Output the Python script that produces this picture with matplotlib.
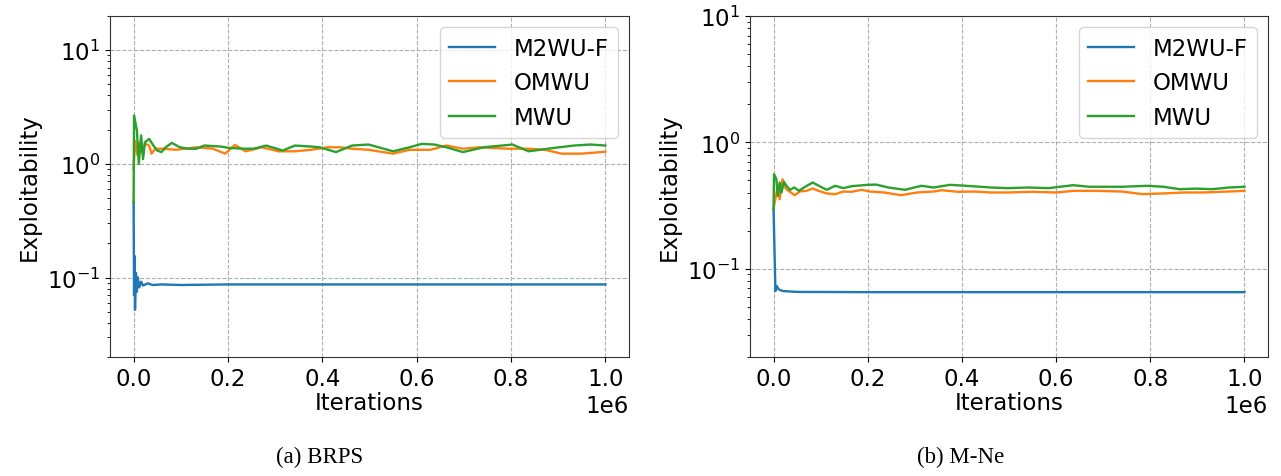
import matplotlib
matplotlib.use("Agg")
import matplotlib.pyplot as plt
import numpy as np

# ---------------- data (x in units of 1e6 iterations) ----------------
brps_m2wu_x = [0.0, 0.001, 0.002, 0.003, 0.005, 0.007, 0.009, 0.012, 0.016, 0.02, 0.03, 0.04,
               0.06, 0.1, 0.2, 0.4, 0.6, 0.8, 1.0]
brps_m2wu_y = [0.46, 0.07, 0.155, 0.052, 0.11, 0.075, 0.10, 0.082, 0.092, 0.085, 0.089, 0.086,
               0.087, 0.086, 0.087, 0.087, 0.087, 0.087, 0.087]

brps_omwu_x = [0.0, 0.003, 0.008, 0.013, 0.018, 0.025, 0.033, 0.038, 0.046, 0.063, 0.09, 0.133,
               0.168, 0.194, 0.215, 0.237, 0.272, 0.307, 0.342, 0.376, 0.411, 0.437, 0.463,
               0.498, 0.55, 0.585, 0.629, 0.663, 0.698, 0.733, 0.76, 0.794, 0.837, 0.872,
               0.907, 0.95, 1.0]
brps_omwu_y = [0.9, 1.6, 1.2, 1.55, 1.25, 1.5, 1.45, 1.23, 1.36, 1.36, 1.33, 1.40,
               1.36, 1.23, 1.47, 1.29, 1.40, 1.29, 1.29, 1.33, 1.40, 1.40, 1.36,
               1.33, 1.23, 1.33, 1.33, 1.45, 1.36, 1.40, 1.38, 1.36, 1.36, 1.33,
               1.23, 1.23, 1.28]

brps_mwu_x = [0.0, 0.001, 0.007, 0.011, 0.016, 0.020, 0.024, 0.033, 0.042, 0.050, 0.059,
              0.068, 0.081, 0.098, 0.116, 0.133, 0.150, 0.185, 0.203, 0.237, 0.255, 0.281,
              0.316, 0.342, 0.377, 0.394, 0.429, 0.463, 0.498, 0.550, 0.585, 0.611, 0.637,
              0.663, 0.698, 0.742, 0.803, 0.837, 0.890, 0.933, 0.968, 1.0]
brps_mwu_y = [0.46, 2.67, 1.97, 1.0, 1.78, 1.1, 1.55, 1.66, 1.45, 1.31, 1.27,
              1.40, 1.53, 1.40, 1.36, 1.36, 1.45, 1.42, 1.38, 1.36, 1.36, 1.45,
              1.31, 1.45, 1.42, 1.40, 1.27, 1.45, 1.48, 1.29, 1.40, 1.50, 1.48,
              1.40, 1.27, 1.40, 1.48, 1.29, 1.38, 1.45, 1.48, 1.45]

mne_m2wu_x = [0.0, 0.004, 0.007, 0.011, 0.02, 0.05, 0.2, 0.5, 0.8, 1.0]
mne_m2wu_y = [0.296, 0.0665, 0.0728, 0.0685, 0.0665, 0.0655, 0.0652, 0.0652, 0.0652, 0.0652]

mne_omwu_x = [0.0, 0.009, 0.013, 0.019, 0.026, 0.037, 0.045, 0.057, 0.070, 0.083, 0.096,
              0.113, 0.131, 0.148, 0.166, 0.187, 0.205, 0.235, 0.270, 0.305, 0.340, 0.357,
              0.392, 0.427, 0.462, 0.497, 0.549, 0.601, 0.636, 0.688, 0.740, 0.784, 0.827,
              0.871, 0.915, 0.949, 1.0]
mne_omwu_y = [0.30, 0.45, 0.355, 0.51, 0.43, 0.40, 0.382, 0.41, 0.413, 0.431, 0.413,
              0.394, 0.389, 0.408, 0.406, 0.421, 0.408, 0.401, 0.382, 0.401, 0.408, 0.418,
              0.406, 0.408, 0.401, 0.401, 0.406, 0.401, 0.413, 0.413, 0.408, 0.389, 0.394,
              0.401, 0.401, 0.406, 0.413]

mne_mwu_x = [0.0, 0.001, 0.006, 0.009, 0.013, 0.017, 0.022, 0.028, 0.035, 0.044, 0.054,
             0.065, 0.083, 0.100, 0.113, 0.131, 0.148, 0.166, 0.200, 0.218, 0.244, 0.279,
             0.314, 0.340, 0.375, 0.409, 0.462, 0.497, 0.540, 0.584, 0.636, 0.671, 0.740,
             0.793, 0.828, 0.862, 0.897, 0.932, 0.967, 1.0]
mne_mwu_y = [0.296, 0.56, 0.512, 0.377, 0.481, 0.401, 0.487, 0.45, 0.42, 0.44, 0.413,
             0.44, 0.481, 0.445, 0.421, 0.453, 0.434, 0.45, 0.461, 0.463, 0.439, 0.421,
             0.453, 0.439, 0.461, 0.453, 0.439, 0.434, 0.439, 0.434, 0.458, 0.445, 0.445,
             0.453, 0.445, 0.426, 0.430, 0.426, 0.439, 0.445]

labels = ["M2WU-F", "OMWU", "MWU"]
captions = ["(a) BRPS", "(b) M-Ne"]
ylims = [(0.02, 20), (0.02, 10)]

colors = ["#1f77b4", "#ff7f0e", "#2ca02c"]

panels = [
    [(brps_m2wu_x, brps_m2wu_y), (brps_omwu_x, brps_omwu_y), (brps_mwu_x, brps_mwu_y)],
    [(mne_m2wu_x, mne_m2wu_y), (mne_omwu_x, mne_omwu_y), (mne_mwu_x, mne_mwu_y)],
]

plt.rcParams['font.family'] = ['DejaVu Sans']
FS = 16.5
fig = plt.figure(figsize=(12.81, 4.77), dpi=100)
positions = [[110 / 1281, 1 - 358 / 477, 519 / 1281, 341 / 477],
             [750 / 1281, 1 - 358 / 477, 518 / 1281, 341 / 477]]
caption_x = [320 / 1281, 961 / 1281]

for i, (pos, series) in enumerate(zip(positions, panels)):
    ax = fig.add_axes(pos)
    for (xs, ys), lab, c in zip(series, labels, colors):
        ax.plot(np.array(xs) * 1e6, ys, color=c, label=lab, linewidth=1.7)
    ax.set_yscale('log')
    ax.set_ylim(*ylims[i])
    ax.grid(True, linestyle='--', color='#b0b0b0', linewidth=0.8)
    ax.set_xlabel('Iterations', fontsize=FS, labelpad=1)
    ax.set_ylabel('Exploitability', fontsize=FS)
    ax.tick_params(labelsize=FS)
    ax.xaxis.get_offset_text().set_fontsize(FS)
    for sp in ax.spines.values():
        sp.set_color('#333333')
    ax.legend(loc='upper right', fontsize=FS)
    fig.text(caption_x[i], 1 - 457 / 477, captions[i], ha='center', va='center',
             fontsize=16.5, family='Liberation Serif')

fig.savefig('out.png', dpi=100)
